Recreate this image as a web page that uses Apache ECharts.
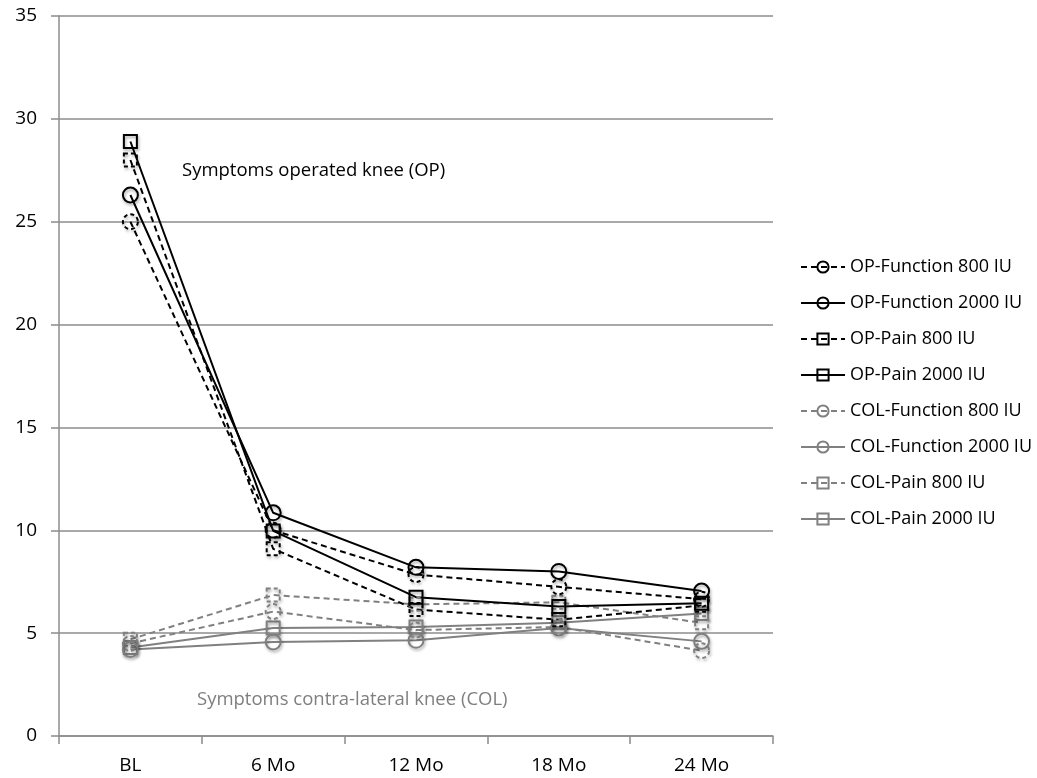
<!DOCTYPE html>
<html>
<head>
<meta charset="utf-8">
<script src="https://cdn.jsdelivr.net/npm/echarts@6/dist/echarts.min.js"></script>
<style>html,body{margin:0;padding:0;background:#fff}#c{width:1037px;height:778px}</style>
</head>
<body>
<div id="c"></div>
<script>
var categories = ['BL', '6 Mo', '12 Mo', '18 Mo', '24 Mo'];
var opFunction800 = [25.0, 10.0, 7.85, 7.25, 6.65];
var opFunction2000 = [26.3, 10.85, 8.2, 8.0, 7.05];
var opPain800 = [28.0, 9.1, 6.15, 5.65, 6.35];
var opPain2000 = [28.9, 9.97, 6.75, 6.3, 6.45];
var colFunction800 = [4.5, 6.05, 5.15, 5.3, 4.15];
var colFunction2000 = [4.2, 4.57, 4.65, 5.25, 4.6];
var colPain800 = [4.7, 6.85, 6.4, 6.5, 5.5];
var colPain2000 = [4.3, 5.25, 5.3, 5.5, 5.95];
var yTicks = [0, 35, 5];

var FONT = 'Open Sans';
var BLACK = '#000000';
var GRAY = '#808080';

function mk(name, data, color, dashed, symbol) {
  return {
    name: name,
    type: 'line',
    data: data,
    symbol: symbol,
    symbolSize: symbol === 'circle' ? 15 : 13,
    showSymbol: true,
    lineStyle: { color: color, width: 2, type: dashed ? [6, 4] : 'solid' },
    itemStyle: {
      color: 'rgba(255,255,255,0)',
      borderColor: color,
      borderWidth: 2,
      borderType: dashed ? [4, 3] : 'solid',
      shadowBlur: 3,
      shadowColor: 'rgba(0,0,0,0.35)',
      shadowOffsetX: 1,
      shadowOffsetY: 2
    },
    emphasis: { disabled: true },
    animation: false
  };
}

var chart = echarts.init(document.getElementById('c'));
chart.setOption({
  backgroundColor: '#fff',
  animation: false,
  grid: { left: 59, right: 264, top: 16, bottom: 42, containLabel: false },
  legend: {
    orient: 'vertical',
    left: 800,
    top: 257,
    padding: 0,
    itemWidth: 44,
    itemHeight: 14,
    itemGap: 16,
    textStyle: { fontFamily: FONT, fontSize: 18, lineHeight: 20, color: '#000' },
    data: ['OP-Function 800 IU', 'OP-Function 2000 IU', 'OP-Pain 800 IU', 'OP-Pain 2000 IU',
           'COL-Function 800 IU', 'COL-Function 2000 IU', 'COL-Pain 800 IU', 'COL-Pain 2000 IU']
  },
  xAxis: {
    type: 'category',
    data: categories,
    boundaryGap: true,
    axisLine: { lineStyle: { color: '#8c8c8c', width: 1.5 } },
    axisTick: { show: true, length: 8, lineStyle: { color: '#8c8c8c', width: 1.5 } },
    axisLabel: { fontFamily: FONT, fontSize: 19, color: '#000', margin: 20 }
  },
  yAxis: {
    type: 'value',
    min: yTicks[0],
    max: yTicks[1],
    interval: yTicks[2],
    axisLine: { show: true, lineStyle: { color: '#8c8c8c', width: 1.5 } },
    axisTick: { show: true, length: 8, lineStyle: { color: '#8c8c8c', width: 1.5 } },
    splitLine: { lineStyle: { color: '#8c8c8c', width: 1.5 } },
    axisLabel: { fontFamily: FONT, fontSize: 19, color: '#000', margin: 22 }
  },
  graphic: [
    { type: 'text', left: 182, top: 161, style: { text: 'Symptoms operated knee (OP)', fontFamily: FONT, fontSize: 18.5, fill: '#000' } },
    { type: 'text', left: 197, top: 690, style: { text: 'Symptoms contra-lateral knee (COL)', fontFamily: FONT, fontSize: 18.5, fill: '#7f7f7f' } }
  ],
  series: [
    mk('COL-Pain 2000 IU', colPain2000, GRAY, false, 'rect'),
    mk('COL-Pain 800 IU', colPain800, GRAY, true, 'rect'),
    mk('COL-Function 2000 IU', colFunction2000, GRAY, false, 'circle'),
    mk('COL-Function 800 IU', colFunction800, GRAY, true, 'circle'),
    mk('OP-Pain 2000 IU', opPain2000, BLACK, false, 'rect'),
    mk('OP-Pain 800 IU', opPain800, BLACK, true, 'rect'),
    mk('OP-Function 2000 IU', opFunction2000, BLACK, false, 'circle'),
    mk('OP-Function 800 IU', opFunction800, BLACK, true, 'circle')
  ]
});
</script>
</body>
</html>
